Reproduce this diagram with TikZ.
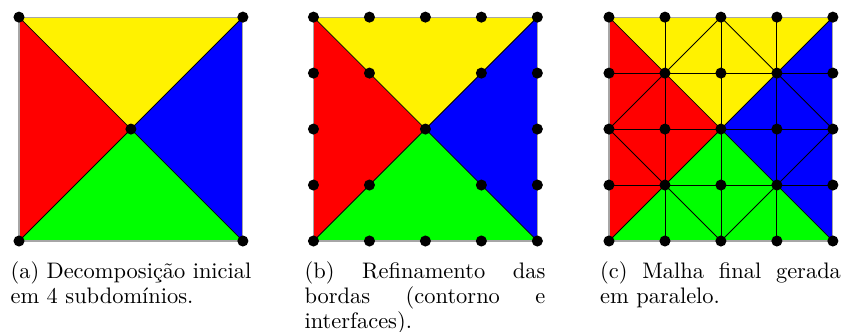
\documentclass[tikz,border=0pt]{standalone}
\usepackage{fontspec}
\usepackage{tikz}

\begin{document}
\begin{tikzpicture}[every node/.style={font=\fontsize{10.95}{12}\selectfont},
	ponto/.style={circle, fill=black, inner sep=0pt, minimum size=0.19cm},
	legenda/.style={text width=4.13cm, align=justify, anchor=north, inner sep=0pt,
		execute at begin node={\hyphenpenalty=10000\exhyphenpenalty=10000}}]
	\useasboundingbox (0,0) rectangle (14.46,5.678);
	\foreach \p/\xo in {a/0.326, b/5.377, c/10.446} {
		\begin{scope}[shift={(\xo,1.544)}, scale=0.96]
			\foreach \i in {0,...,4} {
				\foreach \j in {0,...,4} {
					\coordinate (\p-\i-\j) at (\i,\j);
				}
			}
			% subdominios
			\fill[red] (\p-0-0) -- (\p-2-2) -- (\p-0-4) -- cycle;
			\fill[yellow] (\p-0-4) -- (\p-2-2) -- (\p-4-4) -- cycle;
			\fill[blue] (\p-4-4) -- (\p-2-2) -- (\p-4-0) -- cycle;
			\fill[green] (\p-4-0) -- (\p-2-2) -- (\p-0-0) -- cycle;
			\draw[black, line width=0.4pt] (\p-0-0) -- (\p-4-4) (\p-0-4) -- (\p-4-0);
			\draw[gray!70, line width=0.6pt] (\p-0-0) rectangle (\p-4-4);
		\end{scope}
	}
	% malha final
	\foreach \k in {1,2,3} {
		\draw[black, line width=0.4pt] (c-\k-0) -- (c-\k-4) (c-0-\k) -- (c-4-\k);
	}
	\draw[black, line width=0.4pt] (c-2-0) -- (c-4-2) -- (c-2-4) -- (c-0-2) -- cycle;
	% pontos
	\foreach \i/\j in {0/0, 4/0, 0/4, 4/4, 2/2} {
		\node[ponto] (a-n-\i-\j) at (a-\i-\j) {};
	}
	\foreach \i/\j in {0/0,1/0,2/0,3/0,4/0, 0/4,1/4,2/4,3/4,4/4, 0/1,0/2,0/3, 4/1,4/2,4/3, 1/1,3/1,1/3,3/3,2/2} {
		\node[ponto] (b-n-\i-\j) at (b-\i-\j) {};
	}
	\foreach \i in {0,...,4} {
		\foreach \j in {0,...,4} {
			\node[ponto] (c-n-\i-\j) at (c-\i-\j) {};
		}
	}
	% legendas
	\node[legenda] (leg-a) at (2.247,1.19) {(a) Decomposição inicial em 4 subdomínios.};
	\node[legenda] (leg-b) at (7.29,1.19) {(b) Refinamento das bordas (contorno e interfaces).};
	\node[legenda] (leg-c) at (12.36,1.19) {(c) Malha final gerada em paralelo.};
\end{tikzpicture}
\end{document}
